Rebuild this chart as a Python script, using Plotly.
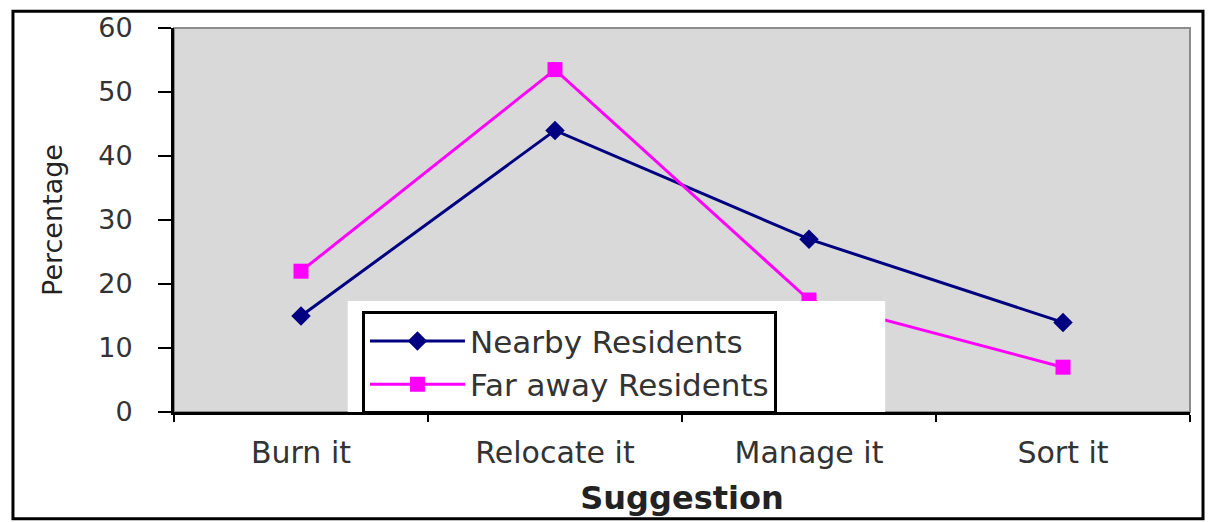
import plotly.graph_objects as go

# Survey answers: share of respondents per suggestion
suggestions = ["Burn it", "Relocate it", "Manage it", "Sort it"]
nearby_residents = [15, 44, 27, 14]
far_away_residents = [22, 53.5, 17.5, 7]
y_ticks = [0, 10, 20, 30, 40, 50, 60]

FONT = "DejaVu Sans"

fig = go.Figure()
fig.add_trace(go.Scatter(
    x=suggestions, y=nearby_residents, name="Nearby Residents",
    mode="lines+markers",
    line=dict(color="#000080", width=3),
    marker=dict(symbol="diamond", size=15, color="#000080"),
))
fig.add_trace(go.Scatter(
    x=suggestions, y=far_away_residents, name="Far away Residents",
    mode="lines+markers",
    line=dict(color="#FF00FF", width=3),
    marker=dict(symbol="square", size=15, color="#FF00FF"),
))

fig.update_layout(
    width=1213, height=522,
    margin=dict(l=174, r=23, t=24, b=110),
    paper_bgcolor="white",
    plot_bgcolor="#D9D9D9",
    font=dict(family=FONT, color="#222222"),
    showlegend=True,
    legend=dict(
        x=0.185, y=0.262, xanchor="left", yanchor="top",
        bgcolor="white", bordercolor="black", borderwidth=3,
        font=dict(family=FONT, size=31, color="#333333"),
        itemwidth=95,
    ),
    shapes=[
        # grey frame around the plotting area
        dict(type="rect", xref="paper", yref="paper", x0=0, x1=1, y0=0, y1=1,
             line=dict(color="#8C8C8C", width=2), layer="below"),
        # white panel behind the legend box
        dict(type="rect", xref="paper", yref="paper", x0=0.171, x1=0.700,
             y0=0.0, y1=0.289, fillcolor="white", line=dict(width=0),
             layer="above"),
        # outer chart border
        dict(type="rect", xref="paper", yref="paper", x0=-0.1585, x1=1.0128,
             y0=-0.278, y1=1.0438, line=dict(color="black", width=3),
             layer="above"),
    ],
)

fig.update_xaxes(
    type="category", range=[-0.5, 3.5],
    showline=True, linecolor="black", linewidth=3,
    ticks="outside", ticklen=7, tickcolor="black", tickwidth=2,
    tickson="boundaries",
    showgrid=False, zeroline=False,
    tickfont=dict(family=FONT, size=30, color="#333333"),
    ticklabelstandoff=12,
    title=dict(text="<b>Suggestion</b>", font=dict(family=FONT, size=32, color="#222222"),
               standoff=18),
)
fig.update_yaxes(
    range=[0, 60], tickvals=y_ticks,
    showline=True, linecolor="black", linewidth=3,
    ticks="outside", ticklen=13, tickcolor="black", tickwidth=2,
    showgrid=False, zeroline=False,
    tickfont=dict(family=FONT, size=27, color="#333333"),
    ticklabelstandoff=20,
    title=dict(text="Percentage", font=dict(family=FONT, size=27, color="#222222"),
               standoff=28),
)

fig.write_html("out.html")
